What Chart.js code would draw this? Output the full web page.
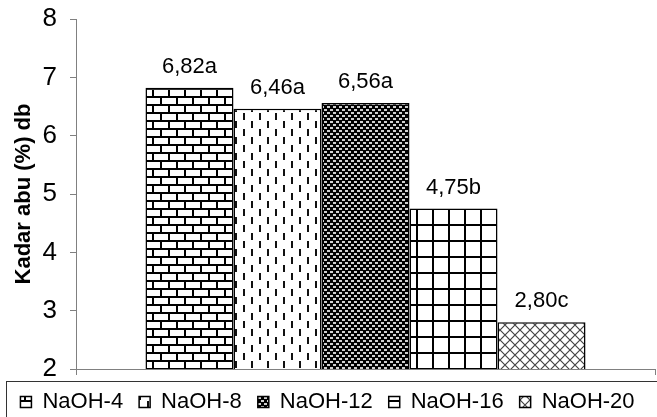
<!DOCTYPE html>
<html>
<head>
<meta charset="utf-8">
<script src="https://cdn.jsdelivr.net/npm/chart.js@4/dist/chart.umd.min.js"></script>
<style>
  html, body { margin: 0; padding: 0; background: #fff; }
  #wrap { width: 657px; height: 417px; }
</style>
</head>
<body>
<div id="wrap"><canvas id="chartCanvas" width="657" height="417"></canvas></div>
<script>
"use strict";

const categories = ['Perlakuan'];
const seriesNames = ['NaOH-4', 'NaOH-8', 'NaOH-12', 'NaOH-16', 'NaOH-20'];
const seriesValues = [6.82, 6.46, 6.56, 4.75, 2.80];
const valueLabels = ['6,82a', '6,46a', '6,56a', '4,75b', '2,80c'];
const yTicks = [2, 3, 4, 5, 6, 7, 8];

// small tiles for the hatch fills
function tile(w, h, draw) {
    const c = document.createElement('canvas');
    c.width = w;
    c.height = h;
    const g = c.getContext('2d');
    draw(g, w, h);
    return c.getContext('2d').createPattern(c, 'repeat');
}

const brick = tile(16, 16, (g) => {
    g.fillStyle = '#fff';
    g.fillRect(0, 0, 16, 16);
    g.fillStyle = '#000';
    g.fillRect(0, 0, 16, 2);
    g.fillRect(0, 8, 16, 2);
    g.fillRect(0, 0, 2, 8);
    g.fillRect(8, 8, 2, 8);
});

const dashes = tile(16, 16, (g) => {
    g.fillStyle = '#fff';
    g.fillRect(0, 0, 16, 16);
    g.fillStyle = '#111';
    g.fillRect(3, 1, 2, 7);
    g.fillRect(11, 9, 2, 7);
});

const dark = tile(6, 6, (g) => {
    g.fillStyle = '#000';
    g.fillRect(0, 0, 6, 6);
    g.fillStyle = '#d0d0d0';
    g.fillRect(0, 1, 3, 2);
    g.fillRect(3, 4, 3, 2);
});

const grid = tile(16, 16, (g) => {
    g.fillStyle = '#fff';
    g.fillRect(0, 0, 16, 16);
    g.fillStyle = '#000';
    g.fillRect(0, 0, 16, 2);
    g.fillRect(0, 0, 2, 16);
});

const cross = tile(10, 10, (g) => {
    g.fillStyle = '#fff';
    g.fillRect(0, 0, 10, 10);
    g.strokeStyle = '#444';
    g.lineWidth = 1.2;
    g.beginPath();
    g.moveTo(0, 0); g.lineTo(10, 10);
    g.moveTo(10, 0); g.lineTo(0, 10);
    g.stroke();
});

const fills = [brick, dashes, dark, grid, cross];

const barLabels = {
    id: 'barLabels',
    afterDatasetsDraw(chart) {
        const ctx = chart.ctx;
        ctx.save();
        ctx.font = '22px "Liberation Sans", Arial, sans-serif';
        ctx.fillStyle = '#000';
        ctx.textAlign = 'center';
        ctx.textBaseline = 'alphabetic';
        chart.data.datasets.forEach((ds, i) => {
            const bar = chart.getDatasetMeta(i).data[0];
            ctx.fillText(valueLabels[i], bar.x, bar.y - 15);
        });
        ctx.restore();
    }
};

const legendFrame = {
    id: 'legendFrame',
    afterDraw(chart) {
        const ctx = chart.ctx;
        ctx.save();
        ctx.strokeStyle = '#333';
        ctx.lineWidth = 1;
        ctx.strokeRect(6.5, 381.5, 700, 60);
        ctx.restore();
    }
};

Chart.defaults.font.family = '"Liberation Sans", Arial, sans-serif';
Chart.defaults.color = '#000';

const ctx = document.getElementById('chartCanvas').getContext('2d');
const chart = new Chart(ctx, {
    type: 'bar',
    data: {
        labels: categories,
        datasets: seriesNames.map((name, i) => ({
            label: name,
            data: [seriesValues[i]],
            backgroundColor: fills[i],
            borderColor: '#000',
            borderWidth: 1.5,
            borderSkipped: false
        }))
    },
    options: {
        responsive: false,
        animation: false,
        layout: { padding: { left: 0, right: 2, top: 0, bottom: -6 } },
        datasets: {
            bar: { categoryPercentage: 0.76, barPercentage: 1.0 }
        },
        plugins: {
            legend: {
                position: 'bottom',
                labels: {
                    boxWidth: 11,
                    boxHeight: 11,
                    padding: 16,
                    font: { size: 22 }
                }
            },
            tooltip: { enabled: false }
        },
        scales: {
            x: {
                grid: { drawOnChartArea: false, tickLength: 6, color: '#808080', offset: true },
                border: { color: '#808080' },
                ticks: { display: false }
            },
            y: {
                min: 2,
                max: 8,
                afterBuildTicks: (axis) => { axis.ticks = yTicks.map(v => ({ value: v })); },
                afterFit: (axis) => {
                    axis.width = 76;
                    axis.paddingTop = 19;
                    axis.paddingBottom = 0;
                },
                grid: { drawOnChartArea: false, tickLength: 6, color: '#808080' },
                border: { color: '#808080' },
                ticks: { font: { size: 26 }, padding: 13 },
                title: {
                    display: true,
                    text: 'Kadar abu (%) db',
                    font: { size: 22, weight: 'bold' },
                    padding: { top: 11, bottom: 0 }
                }
            }
        }
    },
    plugins: [barLabels, legendFrame]
});
</script>
</body>
</html>
